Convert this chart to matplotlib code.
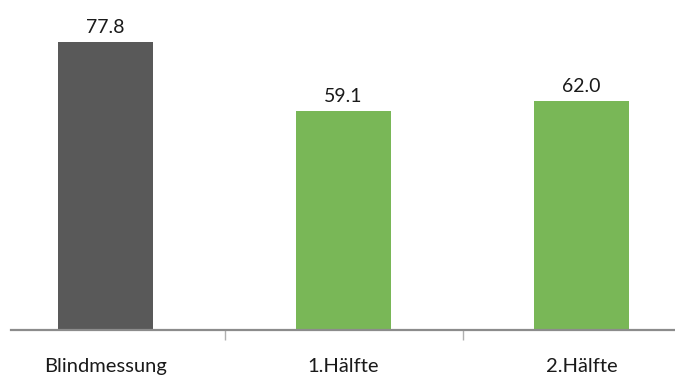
import matplotlib
matplotlib.use("Agg")
import matplotlib.pyplot as plt

categories = ["Blindmessung", "1.Hälfte", "2.Hälfte"]
values = [77.8, 59.1, 62.0]
colors = ["#595959", "#79B757", "#79B757"]
value_labels = ["77.8", "59.1", "62.0"]

plt.rcParams['font.family'] = ['Lato', 'DejaVu Sans']

fig = plt.figure(figsize=(6.75, 3.76), dpi=100)
W, H = 675, 376
left_px, right_px = 11, 675
base_px = 330
ax = fig.add_axes([left_px / W, (H - base_px) / H, (right_px - left_px) / W, base_px / H])

cat_w = 238.0
c0 = 105.5
xl = ((left_px - c0) / cat_w, (right_px - c0) / cat_w)
x = list(range(len(categories)))
ax.bar(x, values, width=95 / cat_w, color=colors, zorder=2)
ax.set_xlim(*xl)
ax.set_ylim(0, base_px / 3.70)

for xi, v, lab in zip(x, values, value_labels):
    ax.annotate(lab, (xi, v), xytext=(0, 6), textcoords="offset pixels",
                ha="center", va="bottom", fontsize=14, color="#1a1a1a")

for s in ["top", "right", "left"]:
    ax.spines[s].set_visible(False)
ax.spines["bottom"].set_color("#8c8c8c")
ax.spines["bottom"].set_linewidth(1.6)
ax.set_yticks([])
ax.set_xticks(x)
ax.set_xticklabels(categories, fontsize=14.5, color="#1a1a1a")
ax.tick_params(axis="x", which="major", length=0, pad=20.5)
ax.set_xticks([0.5, 1.5], minor=True)
ax.tick_params(axis="x", which="minor", length=7, width=1, color="#b0b0b0")

fig.savefig("out.png", dpi=100)
